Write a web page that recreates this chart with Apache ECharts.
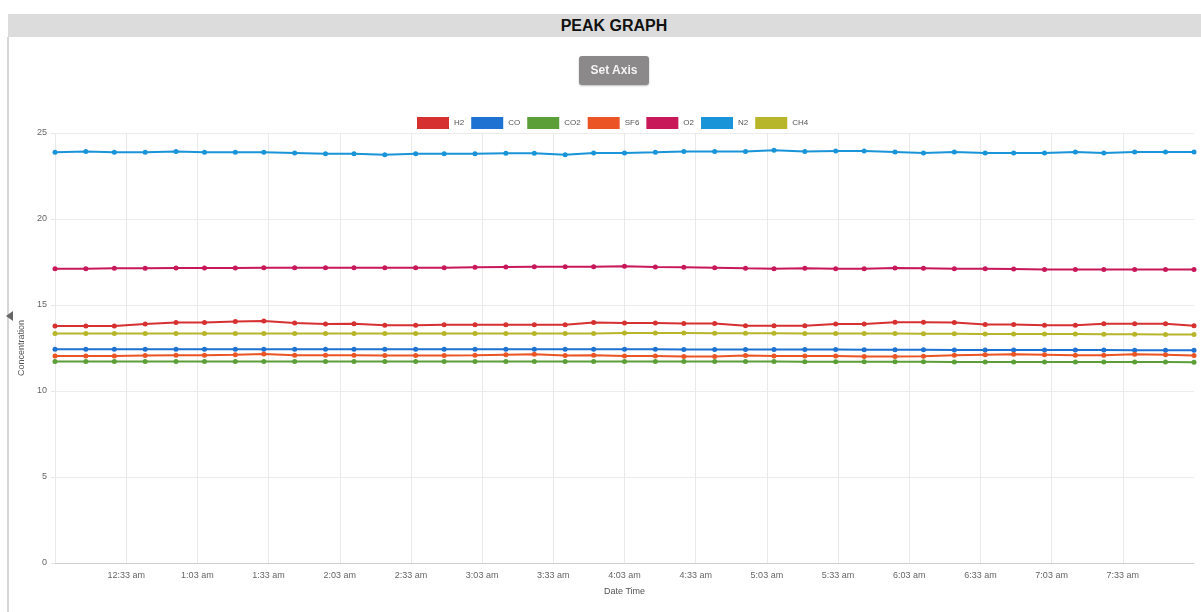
<!DOCTYPE html>
<html>
<head>
<meta charset="utf-8">
<script src="https://cdn.jsdelivr.net/npm/echarts@6.0.0/dist/echarts.min.js"></script>
<style>
  html, body { margin: 0; padding: 0; background: #fff; width: 1201px; height: 612px; overflow: hidden; font-family: "Liberation Sans", Arial, sans-serif; }
  #chart { position: absolute; left: 0; top: 0; width: 1201px; height: 612px; }
  #header { position: absolute; left: 8px; top: 14px; width: 1193px; height: 23px; background: #dcdcdc; }
  #title { position: absolute; left: 414px; top: 14px; width: 400px; height: 23px; text-align: center; line-height: 23px; font-weight: bold; font-size: 16px; color: #111; }
  #leftbar { position: absolute; left: 7px; top: 37px; width: 2px; height: 575px; background: #d6d6d6; }
  #btn { position: absolute; left: 579px; top: 56px; width: 70px; height: 29px; background: #8b8989; border-radius: 3px; color: #f4f4f4; font-weight: bold; font-size: 12px; text-align: center; line-height: 29px; box-shadow: 0 1px 2px rgba(0,0,0,0.25); }
  #tab { position: absolute; left: 6px; top: 311px; width: 0; height: 0; border-top: 5px solid transparent; border-bottom: 5px solid transparent; border-right: 7px solid #666; }
</style>
</head>
<body>
<div id="chart"></div>
<div id="header"></div>
<div id="title">PEAK GRAPH</div>
<div id="leftbar"></div>
<div id="tab"></div>
<div id="btn">Set Axis</div>
<script>
// ---- data ----
const axisOrigin = '00:03';
const times = ['00:03','00:16','00:28','00:41','00:54','01:06','01:19','01:31','01:44','01:57',
  '02:09','02:22','02:35','02:47','03:00','03:13','03:25','03:38','03:50','04:03',
  '04:16','04:28','04:41','04:54','05:06','05:19','05:32','05:44','05:57','06:09',
  '06:22','06:35','06:47','07:00','07:13','07:25','07:38','07:51','08:03'];
const xTicks = ['12:33 am','1:03 am','1:33 am','2:03 am','2:33 am','3:03 am','3:33 am','4:03 am','4:33 am','5:03 am','5:33 am','6:03 am','6:33 am','7:03 am','7:33 am'];
const seriesNames = ['H2','CO','CO2','SF6','O2','N2','CH4'];
const H2 = [13.78,13.78,13.78,13.89,13.98,13.98,14.04,14.07,13.96,13.89,13.91,13.82,13.82,13.85,13.85,13.85,13.85,13.85,13.98,
  13.96,13.96,13.93,13.93,13.80,13.80,13.80,13.89,13.89,14.00,14.00,13.98,13.87,13.87,13.82,13.82,13.91,13.91,13.91,13.80];
const CO = [12.43,12.43,12.43,12.43,12.43,12.43,12.43,12.43,12.43,12.43,12.43,12.43,12.43,12.43,12.43,12.43,12.43,12.43,12.43,
  12.43,12.43,12.42,12.42,12.42,12.41,12.41,12.41,12.40,12.40,12.40,12.39,12.39,12.39,12.38,12.38,12.38,12.37,12.37,12.37];
const CO2 = [11.72,11.72,11.71,11.71,11.71,11.71,11.71,11.72,11.71,11.71,11.71,11.71,11.71,11.71,11.71,11.72,11.72,11.71,11.71,
  11.71,11.72,11.71,11.71,11.71,11.71,11.70,11.70,11.70,11.70,11.70,11.69,11.69,11.69,11.69,11.68,11.68,11.68,11.68,11.67];
const SF6 = [12.04,12.04,12.04,12.06,12.08,12.08,12.11,12.15,12.08,12.08,12.08,12.06,12.06,12.06,12.08,12.11,12.13,12.06,12.08,
  12.04,12.04,12.00,12.00,12.06,12.04,12.04,12.04,12.00,12.00,12.02,12.08,12.11,12.13,12.11,12.08,12.08,12.13,12.11,12.06];
const O2 = [17.11,17.11,17.13,17.13,17.15,17.15,17.15,17.17,17.17,17.17,17.17,17.17,17.17,17.17,17.19,17.21,17.23,17.23,17.23,
  17.25,17.21,17.19,17.17,17.13,17.11,17.13,17.11,17.11,17.15,17.13,17.11,17.11,17.09,17.07,17.07,17.07,17.07,17.07,17.07];
const N2 = [23.88,23.93,23.88,23.88,23.93,23.88,23.88,23.88,23.84,23.80,23.80,23.74,23.80,23.80,23.80,23.82,23.82,23.74,23.84,
  23.84,23.88,23.93,23.93,23.93,23.99,23.93,23.95,23.95,23.90,23.84,23.90,23.84,23.84,23.84,23.90,23.84,23.90,23.90,23.90];
const CH4 = [13.34,13.34,13.34,13.34,13.34,13.34,13.34,13.34,13.34,13.34,13.34,13.34,13.34,13.34,13.34,13.34,13.34,13.34,13.34,
  13.37,13.37,13.37,13.36,13.36,13.36,13.35,13.35,13.34,13.34,13.33,13.33,13.32,13.32,13.31,13.31,13.30,13.30,13.29,13.28];
const yTicks = [0, 5, 10, 15, 20, 25];
const colors = ['#d63031','#1e72d2','#5c9e37','#eb5424','#c8185a','#1a94d8','#b7b52a'];

// ---- build ----
function toMin(s) { const p = s.split(':'); return (+p[0]) * 60 + (+p[1]); }
const originMin = toMin(axisOrigin);
function fmtTime(v) {
  const m = Math.round(v + originMin);
  const h = Math.floor(m / 60) % 24, mm = m % 60;
  let h12 = h % 12; if (h12 === 0) h12 = 12;
  return h12 + ':' + String(mm).padStart(2, '0') + ' ' + (h < 12 ? 'am' : 'pm');
}
const xs = times.map(t => toMin(t) - originMin);
const valuesByName = { H2, CO, CO2, SF6, O2, N2, CH4 };

const chart = echarts.init(document.getElementById('chart'), null, { renderer: 'canvas' });
const font = '"Liberation Sans", Arial, sans-serif';
chart.setOption({
  animation: false,
  color: colors,
  textStyle: { fontFamily: font },
  legend: {
    data: seriesNames,
    top: 112,
    left: 412,
    icon: 'rect',
    itemWidth: 32,
    itemHeight: 12,
    itemGap: 7,
    textStyle: { fontSize: 8, color: '#555', fontFamily: font }
  },
  grid: { left: 55, right: 7, top: 133, bottom: 49, containLabel: false },
  xAxis: {
    type: 'value',
    min: 0,
    max: xs[xs.length - 1],
    interval: 30,
    name: 'Date Time',
    nameLocation: 'middle',
    nameGap: 24,
    nameTextStyle: { fontSize: 9, color: '#555', fontFamily: font },
    axisLine: { show: true, lineStyle: { color: '#cfcfcf', width: 1 } },
    axisTick: { show: false },
    axisLabel: {
      fontSize: 9, color: '#666', margin: 8, fontFamily: font,
      showMinLabel: false, showMaxLabel: false,
      formatter: v => { const s = fmtTime(v); return xTicks.indexOf(s) >= 0 ? s : ''; }
    },
    splitLine: { show: true, showMaxLine: false, lineStyle: { color: '#e9e9e9', width: 1 } }
  },
  yAxis: {
    type: 'value',
    min: yTicks[0],
    max: yTicks[yTicks.length - 1],
    interval: 5,
    name: 'Concentration',
    nameLocation: 'middle',
    nameGap: 28,
    nameRotate: 90,
    nameTextStyle: { fontSize: 9, color: '#555', fontFamily: font },
    axisLine: { show: false },
    axisTick: { show: true, length: 4, lineStyle: { color: '#e6e6e6' } },
    axisLabel: { fontSize: 9, color: '#666', margin: 8, fontFamily: font },
    splitLine: { show: true, lineStyle: { color: '#ececec', width: 1 } }
  },
  series: seriesNames.map((name, i) => ({
    name,
    type: 'line',
    data: xs.map((x, k) => [x, valuesByName[name][k]]),
    symbol: 'circle',
    symbolSize: 5,
    showSymbol: true,
    lineStyle: { width: 2, color: colors[i] },
    itemStyle: { color: colors[i] },
    emphasis: { disabled: true }
  }))
});
</script>
</body>
</html>
